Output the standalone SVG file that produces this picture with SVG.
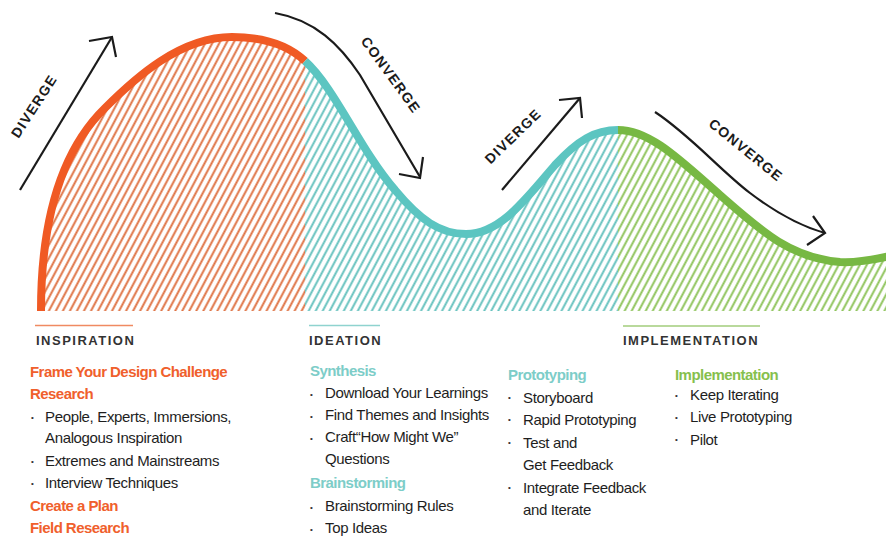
<svg xmlns="http://www.w3.org/2000/svg" width="886" height="537" viewBox="0 0 886 537">
  <style>
    .curve { fill: none; stroke-width: 8; stroke-linecap: butt; }
    .arrow { fill: none; stroke: #1b1b1b; stroke-width: 2.2; stroke-linejoin: miter; }
    .cue { font-family: "Liberation Sans", Arial, sans-serif; font-weight: bold; font-size: 14px; letter-spacing: 1.3px; fill: #1b1b1b; text-anchor: middle; dominant-baseline: central; }
    .phase { font-family: "Liberation Sans", Arial, sans-serif; font-weight: bold; font-size: 13px; letter-spacing: 1.5px; fill: #333333; }
    .head { font-family: "Liberation Sans", Arial, sans-serif; font-weight: bold; font-size: 15px; letter-spacing: -0.55px; }
    .item { font-family: "Liberation Sans", Arial, sans-serif; font-size: 15px; letter-spacing: -0.35px; fill: #1e1e1e; }
    .dot { font-family: "Liberation Sans", Arial, sans-serif; font-size: 8px; fill: #333333; }
    .orange { fill: #f0602c; }
    .teal { fill: #7dcdc8; }
    .green { fill: #86c04d; }
  </style>
  <defs>
    <pattern id="hatch-orange" patternUnits="userSpaceOnUse" width="6.2" height="10" patternTransform="rotate(28)">
      <line x1="3.1" y1="-1" x2="3.1" y2="11" stroke="#de7040" stroke-width="1.9"/>
    </pattern>
    <pattern id="hatch-teal" patternUnits="userSpaceOnUse" width="6.2" height="10" patternTransform="rotate(28)">
      <line x1="3.1" y1="-1" x2="3.1" y2="11" stroke="#62c0bc" stroke-width="1.9"/>
    </pattern>
    <pattern id="hatch-green" patternUnits="userSpaceOnUse" width="6.2" height="10" patternTransform="rotate(28)">
      <line x1="3.1" y1="-1" x2="3.1" y2="11" stroke="#8cc257" stroke-width="1.9"/>
    </pattern>
    <clipPath id="under-curve">
      <path d="M41,311 C41,220 62,150 105,108 C135,78 180,37 232,37 C262,37 288,45 305,61 C335,88 360,150 395,190 C420,220 440,234 466,234 C500,234 525,200 555,165 C578,140 595,130 618,130 C650,130 680,160 720,195 C760,230 790,258 840,262 C858,263 873,260 890,256 L890,311 Z"/>
    </clipPath>
  </defs>

  <!-- hatched areas under the wave -->
  <g id="hatching" clip-path="url(#under-curve)">
    <rect x="36" y="20" width="269" height="291" fill="url(#hatch-orange)"/>
    <rect x="305" y="20" width="313" height="291" fill="url(#hatch-teal)"/>
    <rect x="618" y="20" width="272" height="291" fill="url(#hatch-green)"/>
  </g>

  <!-- wave outline, one colour per phase -->
  <g id="wave">
    <path class="curve" stroke="#f05a24" d="M41,311 C41,220 62,150 105,108 C135,78 180,37 232,37 C262,37 288,45 305,61"/>
    <path class="curve" stroke="#5cc5c1" d="M305,61 C335,88 360,150 395,190 C420,220 440,234 466,234 C500,234 525,200 555,165 C578,140 595,130 618,130"/>
    <path class="curve" stroke="#77b843" d="M618,130 C650,130 680,160 720,195 C760,230 790,258 840,262 C858,263 873,260 890,256"/>
  </g>

  <!-- diverge / converge arrows -->
  <g id="connectors">
    <path class="arrow" d="M20,190 L112,37"/>
    <path class="arrow" d="M89,41 L112,37 L116,57"/>
    <path class="arrow" d="M275,13 C315,20 340,45 360,75 L420,177"/>
    <path class="arrow" d="M399,174 L420,178 L423,157"/>
    <path class="arrow" d="M502,190 L580,98"/>
    <path class="arrow" d="M559,100 L580,98 L582,118"/>
    <path class="arrow" d="M655,112 C690,135 720,170 750,193 C775,212 800,226 825,233"/>
    <path class="arrow" d="M807,245 L825,233 L813,216"/>
  </g>

  <g id="arrow-labels">
    <text class="cue" transform="translate(34,106) rotate(-57)">DIVERGE</text>
    <text class="cue" transform="translate(391,75) rotate(54)">CONVERGE</text>
    <text class="cue" transform="translate(513,136) rotate(-44)">DIVERGE</text>
    <text class="cue" transform="translate(746,150) rotate(39)">CONVERGE</text>
  </g>

  <!-- phase titles -->
  <g id="inspiration-title">
    <line x1="35" y1="325.5" x2="133" y2="325.5" stroke="#f08a62" stroke-width="1.6"/>
    <text class="phase" x="36" y="345">INSPIRATION</text>
  </g>
  <g id="ideation-title">
    <line x1="309" y1="325.5" x2="380" y2="325.5" stroke="#8fd3cf" stroke-width="1.6"/>
    <text class="phase" x="309" y="345">IDEATION</text>
  </g>
  <g id="implementation-title">
    <line x1="623" y1="326" x2="760" y2="326" stroke="#a2cd7b" stroke-width="1.6"/>
    <text class="phase" x="623" y="345">IMPLEMENTATION</text>
  </g>

  <!-- inspiration list -->
  <g id="inspiration-list">
    <text class="head orange" x="30" y="377">Frame Your Design Challenge</text>
    <text class="head orange" x="30" y="399">Research</text>
    <text class="dot" x="31" y="420">•</text>
    <text class="item" x="45" y="421.5">People, Experts, Immersions,</text>
    <text class="item" x="45" y="443">Analogous Inspiration</text>
    <text class="dot" x="31" y="464">•</text>
    <text class="item" x="45" y="465.5">Extremes and Mainstreams</text>
    <text class="dot" x="31" y="486">•</text>
    <text class="item" x="45" y="487.5">Interview Techniques</text>
    <text class="head orange" x="30" y="510.5">Create a Plan</text>
    <text class="head orange" x="30" y="532.5">Field Research</text>
  </g>

  <!-- ideation list -->
  <g id="ideation-list">
    <text class="head teal" x="310" y="376">Synthesis</text>
    <text class="dot" x="310" y="397">•</text>
    <text class="item" x="325" y="398">Download Your Learnings</text>
    <text class="dot" x="310" y="419">•</text>
    <text class="item" x="325" y="420">Find Themes and Insights</text>
    <text class="dot" x="310" y="441">•</text>
    <text class="item" x="325" y="442">Craft“How Might We”</text>
    <text class="item" x="325" y="464">Questions</text>
    <text class="head teal" x="310" y="488">Brainstorming</text>
    <text class="dot" x="310" y="510">•</text>
    <text class="item" x="325" y="511">Brainstorming Rules</text>
    <text class="dot" x="310" y="532">•</text>
    <text class="item" x="325" y="533">Top Ideas</text>
  </g>

  <!-- prototyping list -->
  <g id="prototyping-list">
    <text class="head teal" x="508" y="380">Prototyping</text>
    <text class="dot" x="508" y="400">•</text>
    <text class="item" x="523" y="402.5">Storyboard</text>
    <text class="dot" x="508" y="422">•</text>
    <text class="item" x="523" y="425">Rapid Prototyping</text>
    <text class="dot" x="508" y="445">•</text>
    <text class="item" x="523" y="448">Test and</text>
    <text class="item" x="523" y="470">Get Feedback</text>
    <text class="dot" x="508" y="490">•</text>
    <text class="item" x="523" y="492.5">Integrate Feedback</text>
    <text class="item" x="523" y="515">and Iterate</text>
  </g>

  <!-- implementation list -->
  <g id="implementation-list">
    <text class="head green" x="675" y="380">Implementation</text>
    <text class="dot" x="675" y="398">•</text>
    <text class="item" x="690" y="400">Keep Iterating</text>
    <text class="dot" x="675" y="420">•</text>
    <text class="item" x="690" y="422">Live Prototyping</text>
    <text class="dot" x="675" y="442">•</text>
    <text class="item" x="690" y="444.5">Pilot</text>
  </g>
</svg>
